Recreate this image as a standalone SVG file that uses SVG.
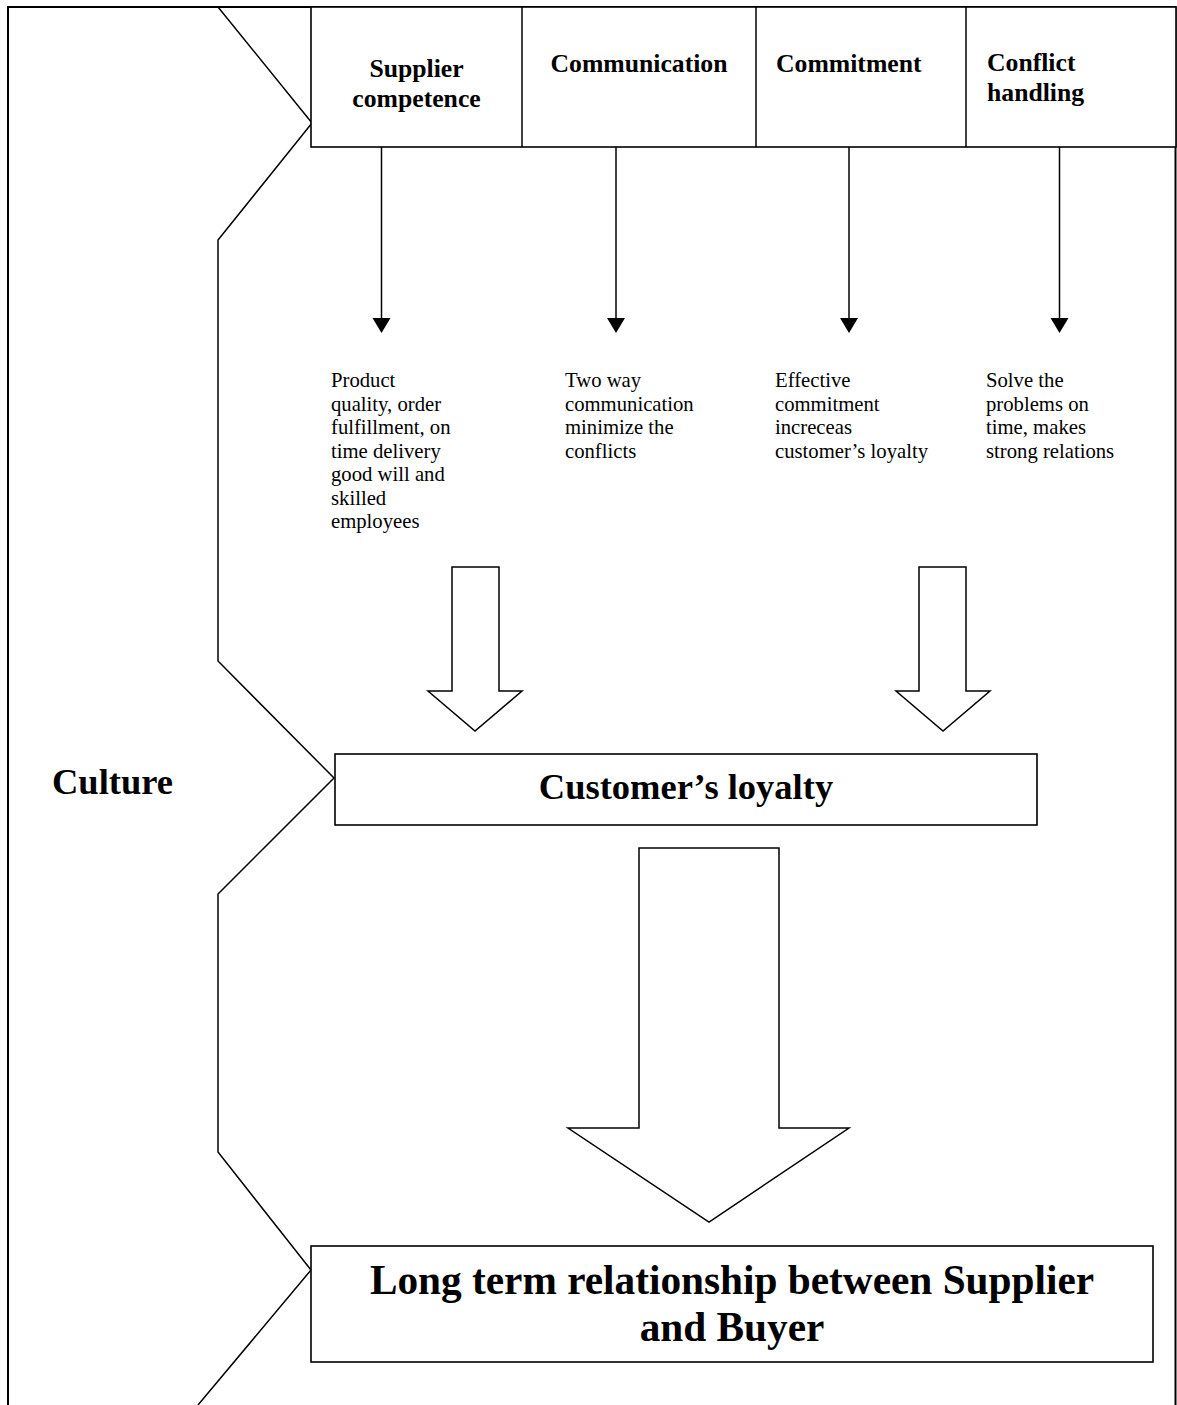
<svg xmlns="http://www.w3.org/2000/svg" width="1177" height="1405" viewBox="0 0 1177 1405">
<style>
.ln{fill:none;stroke:#000;stroke-width:1.5}
.box{fill:#fff;stroke:#000;stroke-width:1.6}
.hol{fill:#fff;stroke:#000;stroke-width:1.5;stroke-linejoin:miter}
.hd{font-family:"Liberation Serif","Times New Roman",serif;font-weight:bold;font-size:25.7px;fill:#000}
.ds{font-family:"Liberation Serif","Times New Roman",serif;font-size:20.7px;fill:#000}
.big{font-family:"Liberation Serif","Times New Roman",serif;font-weight:bold;font-size:36.5px;fill:#000}
.lt{font-family:"Liberation Serif","Times New Roman",serif;font-weight:bold;font-size:41.3px;fill:#000}
</style>
<rect width="1177" height="1405" fill="#fff"/>
<g id="frame">
<path d="M8,1405 V7 H1175.5 V1405" fill="none" stroke="#000" stroke-width="2"/>
</g>
<g id="culture">
<polyline class="ln" points="218,7 312,123 218,240 218,661 334,778 218,894 218,1152 311,1270 198,1405"/>
<text class="big" x="52" y="794">Culture</text>
</g>
<g id="header">
<rect class="box" x="311" y="7" width="865" height="140"/>
<line class="ln" x1="522" y1="7" x2="522" y2="147"/>
<line class="ln" x1="756" y1="7" x2="756" y2="147"/>
<line class="ln" x1="966" y1="7" x2="966" y2="147"/>
</g>
<g id="supplier-competence">
<text class="hd" x="416.5" y="77" text-anchor="middle">Supplier</text>
<text class="hd" x="416.5" y="107" text-anchor="middle">competence</text>
</g>
<g id="communication">
<text class="hd" x="639" y="72" text-anchor="middle">Communication</text>
</g>
<g id="commitment">
<text class="hd" x="776" y="72">Commitment</text>
</g>
<g id="conflict-handling">
<text class="hd" x="987" y="71">Conflict</text>
<text class="hd" x="987" y="101">handling</text>
</g>
<g id="connectors">
<line class="ln" x1="381.5" y1="147" x2="381.5" y2="320"/>
<polygon points="372.5,318 390.5,318 381.5,333" fill="#000"/>
<line class="ln" x1="616" y1="147" x2="616" y2="320"/>
<polygon points="607,318 625,318 616,333" fill="#000"/>
<line class="ln" x1="849" y1="147" x2="849" y2="320"/>
<polygon points="840,318 858,318 849,333" fill="#000"/>
<line class="ln" x1="1059.5" y1="147" x2="1059.5" y2="320"/>
<polygon points="1050.5,318 1068.5,318 1059.5,333" fill="#000"/>
<polygon class="hol" points="452,567 499,567 499,691 522,691 475,731 428,691 452,691"/>
<polygon class="hol" points="919,567 966,567 966,691 990,691 943,731 896,691 919,691"/>
<polygon class="hol" points="639,848 779,848 779,1128 849,1128 709,1222 568,1128 639,1128"/>
</g>
<g id="desc-supplier">
<text class="ds" x="331">
<tspan x="331" y="387">Product</tspan>
<tspan x="331" y="410.5">quality, order</tspan>
<tspan x="331" y="434">fulfillment, on</tspan>
<tspan x="331" y="457.5">time delivery</tspan>
<tspan x="331" y="481">good will and</tspan>
<tspan x="331" y="504.5">skilled</tspan>
<tspan x="331" y="528">employees</tspan>
</text>
</g>
<g id="desc-communication">
<text class="ds">
<tspan x="565" y="387">Two way</tspan>
<tspan x="565" y="410.5">communication</tspan>
<tspan x="565" y="434">minimize the</tspan>
<tspan x="565" y="457.5">conflicts</tspan>
</text>
</g>
<g id="desc-commitment">
<text class="ds">
<tspan x="775" y="387">Effective</tspan>
<tspan x="775" y="410.5">commitment</tspan>
<tspan x="775" y="434">increceas</tspan>
<tspan x="775" y="457.5">customer’s loyalty</tspan>
</text>
</g>
<g id="desc-conflict">
<text class="ds">
<tspan x="986" y="387">Solve the</tspan>
<tspan x="986" y="410.5">problems on</tspan>
<tspan x="986" y="434">time, makes</tspan>
<tspan x="986" y="457.5">strong relations</tspan>
</text>
</g>
<g id="customers-loyalty">
<rect class="box" x="335" y="754" width="702" height="71"/>
<text class="big" x="686" y="799" text-anchor="middle">Customer’s loyalty</text>
</g>
<g id="long-term">
<rect class="box" x="311" y="1246" width="842" height="116"/>
<text class="lt" x="732" y="1294" text-anchor="middle">Long term relationship between Supplier</text>
<text class="lt" x="732" y="1341" text-anchor="middle">and Buyer</text>
</g>
</svg>
